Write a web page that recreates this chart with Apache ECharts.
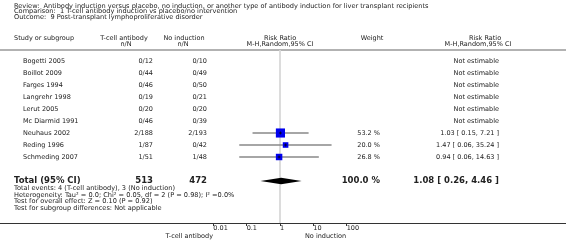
<!DOCTYPE html>
<html>
<head>
<meta charset="utf-8">
<style>
  html, body { margin: 0; padding: 0; background: #fff; }
  #forest { width: 566px; height: 241px; }
</style>
<script src="https://cdn.jsdelivr.net/npm/echarts@6/dist/echarts.min.js"></script>
</head>
<body>
<div id="forest"></div>
<script>
// studies (rows, top to bottom)
const studies = ['Bogetti 2005', 'Boillot 2009', 'Farges 1994', 'Langrehr 1998', 'Lerut 2005',
  'Mc Diarmid 1991', 'Neuhaus 2002', 'Reding 1996', 'Schmeding 2007'];
const tcellNN = ['0/12', '0/44', '0/46', '0/19', '0/20', '0/46', '2/188', '1/87', '1/51'];
const noIndNN = ['0/10', '0/49', '0/50', '0/21', '0/20', '0/39', '2/193', '0/42', '1/48'];
const ratio = [null, null, null, null, null, null, 1.03, 1.47, 0.94];
const ciLow = [null, null, null, null, null, null, 0.15, 0.06, 0.06];
const ciHigh = [null, null, null, null, null, null, 7.21, 35.24, 14.63];
const weights = [null, null, null, null, null, null, 53.2, 20.0, 26.8];

// pooled
const totalN = [513, 472];
const totalRatio = [1.08, 0.26, 4.46];
const totalWeight = 100.0;

const tickValues = [0.01, 0.1, 1, 10, 100];
const tickLabels = ['0.01', '0.1', '1', '10', '100'];

const footnotes = [
  'Total events: 4 (T-cell antibody), 3 (No induction)',
  'Heterogeneity: Tau\u00b2 = 0.0; Chi\u00b2 = 0.05, df = 2 (P = 0.98); I\u00b2 =0.0%',
  'Test for overall effect: Z = 0.10 (P = 0.92)',
  'Test for subgroup differences: Not applicable'
];

const FONT = 'DejaVu Sans';
const INK = '#222';
const ROW = 6.5;   // table text size
const NOTE = 6.6;  // title / footnote size
const BIG = 8.5;   // total row
const Y_MIN = -0.9, Y_MAX = 13.5;
const totalRow = studies.length + 1; // y index of total row

function fmt(v) { return v.toFixed(2); }
function txt(x, y, s, align, size, weight) {
  return {
    type: 'text', x: x, y: y,
    style: { text: s, fill: INK, font: (weight || 'normal') + ' ' + (size || ROW) + 'px "' + FONT + '"',
      textAlign: align || 'left', textVerticalAlign: 'middle' }
  };
}

const chart = echarts.init(document.getElementById('forest'));

const option = {
  animation: false,
  grid: { left: 213.33, width: 133.33, top: 50.2, height: 172.8 },
  xAxis: {
    type: 'log', logBase: 10, min: 0.01, max: 100, splitNumber: 4,
    axisLine: { show: true, onZero: false, lineStyle: { color: '#333', width: 1 } },
    axisTick: { show: true, length: 3, lineStyle: { color: '#333' } },
    axisLabel: {
      fontSize: ROW, fontFamily: FONT, color: INK, margin: 2, align: 'left',
      formatter: function (v) {
        const k = tickValues.findIndex(t => Math.abs(Math.log10(t) - Math.log10(v)) < 1e-6);
        return k >= 0 ? tickLabels[k] : '';
      }
    },
    splitLine: { show: false }
  },
  yAxis: { type: 'value', inverse: true, min: Y_MIN, max: Y_MAX, show: false },
  series: [
    // line of no effect
    {
      type: 'custom', silent: true, clip: false,
      data: [[1]],
      renderItem: function (params, api) {
        const a = api.coord([api.value(0), Y_MIN]);
        const b = api.coord([api.value(0), Y_MAX]);
        return { type: 'line', shape: { x1: a[0], y1: a[1], x2: b[0], y2: b[1] },
          style: { stroke: '#dcdcdc', lineWidth: 2 } };
      },
      z: 1
    },
    // study text columns
    {
      type: 'custom', clip: false, silent: true,
      data: studies.map((s, i) => [1, i]),
      renderItem: function (params, api) {
        const i = params.dataIndex;
        const y = api.coord([1, i])[1];
        const kids = [
          txt(23, y, studies[i], 'left'),
          txt(153, y, tcellNN[i], 'right'),
          txt(207, y, noIndNN[i], 'right')
        ];
        if (ratio[i] == null) {
          kids.push(txt(499, y, 'Not estimable', 'right'));
        } else {
          kids.push(txt(380, y, weights[i].toFixed(1) + ' %', 'right'));
          kids.push(txt(499, y, fmt(ratio[i]) + ' [ ' + fmt(ciLow[i]) + ', ' + fmt(ciHigh[i]) + ' ]', 'right'));
        }
        return { type: 'group', children: kids };
      },
      z: 2
    },
    // confidence intervals and weighted squares
    {
      type: 'custom', clip: false, silent: true,
      data: ratio.map((r, i) => [r, i, ciLow[i], ciHigh[i], weights[i]]).filter(d => d[0] != null),
      renderItem: function (params, api) {
        const i = api.value(1);
        const c = api.coord([api.value(0), i]);
        const a = api.coord([api.value(2), i]);
        const b = api.coord([api.value(3), i]);
        const s = 1.25 * Math.sqrt(api.value(4));
        return {
          type: 'group',
          children: [
            { type: 'line', shape: { x1: a[0], y1: c[1], x2: b[0], y2: c[1] },
              style: { stroke: '#888', lineWidth: 1.4 } },
            { type: 'rect', shape: { x: c[0] - s / 2, y: c[1] - s / 2, width: s, height: s },
              style: { fill: '#0000ee' } },
            { type: 'line', shape: { x1: c[0], y1: c[1] - 1.5, x2: c[0], y2: c[1] + 1.5 },
              style: { stroke: '#000', lineWidth: 0.7 } },
            { type: 'line', shape: { x1: c[0] - 1.5, y1: c[1], x2: c[0] + 1.5, y2: c[1] },
              style: { stroke: '#000', lineWidth: 0.7 } }
          ]
        };
      },
      z: 3
    },
    // pooled diamond and total row
    {
      type: 'custom', clip: false, silent: true,
      data: [[totalRatio[0], totalRow, totalRatio[1], totalRatio[2]]],
      renderItem: function (params, api) {
        const y = api.value(1);
        const c = api.coord([api.value(0), y]);
        const a = api.coord([api.value(2), y]);
        const b = api.coord([api.value(3), y]);
        const h = 3.2;
        return {
          type: 'group',
          children: [
            { type: 'polygon', shape: { points: [[a[0], c[1]], [c[0], c[1] - h], [b[0], c[1]], [c[0], c[1] + h]] },
              style: { fill: '#000' } },
            txt(14, c[1], 'Total (95% CI)', 'left', BIG, 'bold'),
            txt(153, c[1], String(totalN[0]), 'right', BIG, 'bold'),
            txt(207, c[1], String(totalN[1]), 'right', BIG, 'bold'),
            txt(380, c[1], totalWeight.toFixed(1) + ' %', 'right', BIG, 'bold'),
            txt(499, c[1], fmt(totalRatio[0]) + ' [ ' + fmt(totalRatio[1]) + ', ' + fmt(totalRatio[2]) + ' ]', 'right', BIG, 'bold')
          ]
        };
      },
      z: 4
    }
  ],
  graphic: [
    txt(14, 6, 'Review:  Antibody induction versus placebo, no induction, or another type of antibody induction for liver transplant recipients', 'left', NOTE),
    txt(14, 11.5, 'Comparison:  1 T-cell antibody induction vs placebo/no intervention', 'left', NOTE),
    txt(14, 17, 'Outcome:  9 Post-transplant lymphoproliferative disorder', 'left', NOTE),
    txt(14, 38, 'Study or subgroup'),
    txt(124, 38, 'T-cell antibody', 'center'),
    txt(126, 44, 'n/N', 'center'),
    txt(184, 38, 'No induction', 'center'),
    txt(183, 44, 'n/N', 'center'),
    txt(280, 38, 'Risk Ratio', 'center'),
    txt(280, 44, 'M-H,Random,95% CI', 'center'),
    txt(372, 38, 'Weight', 'center'),
    txt(485, 38, 'Risk Ratio', 'center'),
    txt(478, 44, 'M-H,Random,95% CI', 'center'),
    { type: 'line', shape: { x1: 0, y1: 50, x2: 566, y2: 50 }, style: { stroke: '#999', lineWidth: 1.5 } },
    { type: 'line', shape: { x1: 0, y1: 223.5, x2: 566, y2: 223.5 }, style: { stroke: '#333', lineWidth: 1 } },
    txt(14, 188.5, footnotes[0], 'left', NOTE),
    txt(14, 195, footnotes[1], 'left', NOTE),
    txt(14, 201.5, footnotes[2], 'left', NOTE),
    txt(14, 208, footnotes[3], 'left', NOTE),
    txt(213, 236, 'T-cell antibody', 'right'),
    txt(305, 236, 'No induction', 'left')
  ]
};

chart.setOption(option);
</script>
</body>
</html>
